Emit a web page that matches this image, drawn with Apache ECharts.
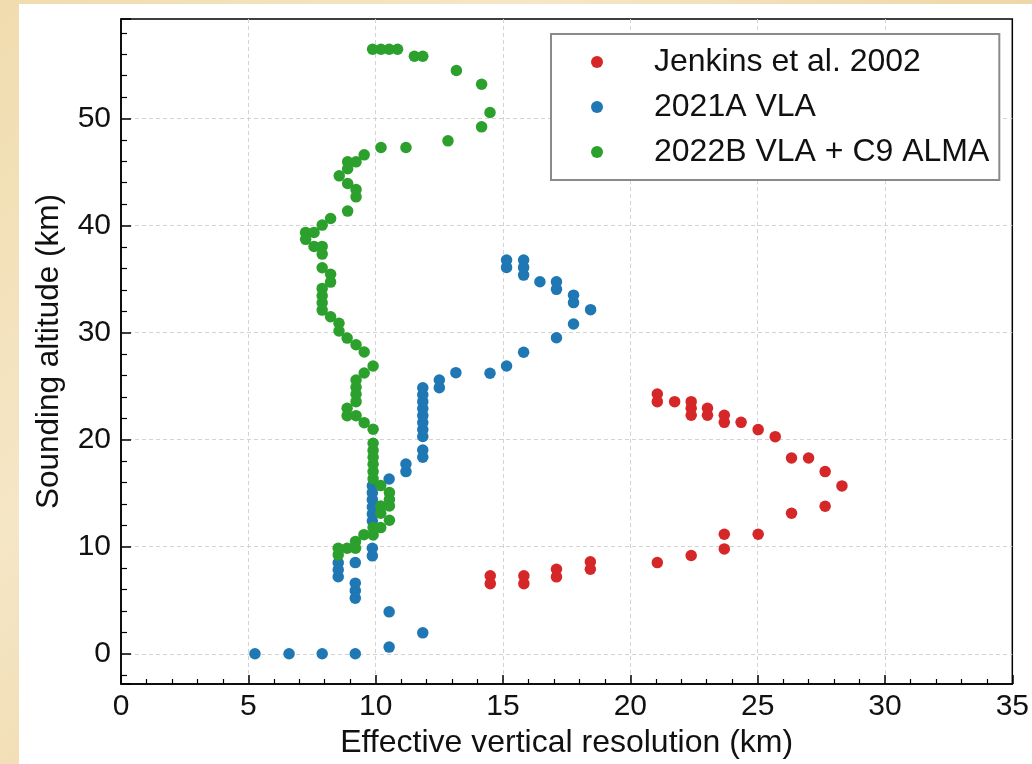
<!DOCTYPE html>
<html>
<head>
<meta charset="utf-8">
<script src="https://cdn.jsdelivr.net/npm/echarts@6/dist/echarts.min.js"></script>
<style>
  html, body { margin: 0; padding: 0; }
  body {
    width: 1032px; height: 764px; overflow: hidden; position: relative;
    background: linear-gradient(135deg, #f0dcae 0%, #f5e6c6 30%, #eed6a4 60%, #f4e2bd 100%);
  }
  #paper { position: absolute; left: 19px; top: 4px; width: 1013px; height: 760px; background: #fff; }
  #chart { position: absolute; left: 0; top: 0; width: 1032px; height: 764px; }
</style>
</head>
<body>
<div id="paper"></div>
<div id="chart"></div>
<script>
// ---- data (x: resolution km, y: altitude km) ----
const seriesNames = ['Jenkins et al. 2002', '2021A VLA', '2022B VLA + C9 ALMA'];
const seriesColors = ['#d62728', '#1f77b4', '#2ca02c'];

const jenkins2002 = [
  [21.06,24.27],[21.06,23.55],[21.74,23.55],[22.39,23.55],[22.39,22.93],[22.39,22.28],
  [23.03,22.93],[23.03,22.28],[23.69,22.28],[23.69,21.62],[24.35,21.62],[25.02,20.94],
  [25.69,20.28],[26.33,18.29],[27.0,18.29],[27.65,17.02],[28.31,15.68],[27.65,13.78],
  [26.33,13.13],[23.69,11.17],[25.02,11.17],[23.69,9.8],[22.39,9.18],[21.06,8.52],
  [18.43,8.6],[18.43,7.9],[17.1,7.9],[17.1,7.19],[15.82,7.28],[15.82,6.55],
  [14.5,7.28],[14.5,6.55]
];

const vla2021A = [
  [5.26,0],[6.6,0],[7.9,0],[9.2,0],[10.53,0.63],[11.85,1.96],[10.53,3.92],
  [9.2,5.2],[9.2,5.9],[9.2,6.6],[8.53,7.2],[8.53,7.85],[8.53,8.5],[9.2,8.52],
  [9.87,9.15],[9.87,9.86],[9.87,12.4],[9.87,13.05],[9.87,13.7],[9.87,14.4],
  [9.87,15.05],[9.87,15.7],[10.53,16.33],[11.19,17.02],[11.19,17.73],
  [11.85,18.36],[11.85,19.04],[11.85,20.3],[11.85,20.95],[11.85,21.6],[11.85,22.25],
  [11.85,22.9],[11.85,23.55],[11.85,24.2],[11.85,24.85],[12.5,24.86],[12.5,25.57],
  [13.15,26.26],[14.49,26.2],[15.14,26.88],[15.81,28.16],[17.1,29.52],[17.77,30.8],
  [18.44,32.14],[17.77,32.8],[17.77,33.5],[17.1,34.04],[17.1,34.75],[16.45,34.75],
  [15.81,35.37],[15.81,36.09],[15.81,36.77],[15.14,36.09],[15.14,36.77]
];

const vla2022B_alma = [
  [9.88,56.47],[10.21,56.47],[10.53,56.47],[10.86,56.47],[11.52,55.81],[11.85,55.81],
  [13.17,54.48],[14.16,53.2],[14.49,50.56],[14.16,49.22],[12.84,47.91],[11.19,47.29],
  [10.21,47.29],[9.55,46.6],[9.23,45.95],[8.9,45.95],[8.9,45.3],[8.57,44.64],
  [8.9,43.93],[9.23,43.37],[9.23,42.68],[8.9,41.35],[8.23,40.66],[7.9,40.04],
  [7.58,39.36],[7.25,39.36],[7.25,38.71],[7.58,38.05],[7.9,38.05],[7.9,37.33],
  [7.9,36.06],[8.23,35.44],[8.23,34.72],[7.9,34.13],[7.9,33.44],[7.9,32.79],
  [7.9,32.1],[8.23,31.48],[8.56,30.87],[8.56,30.15],[8.88,29.49],[9.23,28.87],
  [9.55,28.19],[9.9,26.88],[9.55,26.23],[9.23,25.57],[9.23,24.89],[9.23,24.24],
  [9.23,23.55],[8.88,22.93],[8.88,22.24],[9.23,22.24],[9.55,21.59],[9.9,20.97],
  [9.9,19.67],[9.9,19.0],[9.9,18.35],[9.9,17.7],[9.9,17.02],[9.9,16.35],
  [10.2,15.71],[10.54,15.06],[10.54,14.41],[10.54,13.8],[10.2,13.8],[10.2,13.13],
  [10.54,12.47],[10.2,11.79],[9.9,11.79],[9.9,11.1],[9.54,11.13],[9.21,10.5],
  [9.21,9.86],[8.88,9.86],[8.53,9.86],[8.53,9.24]
];

const xTicks = [0, 5, 10, 15, 20, 25, 30, 35];
const yTicks = [0, 10, 20, 30, 40, 50];
const xRange = [0, 35];
const yRange = [-2.82, 59.29];
const xTitle = 'Effective vertical resolution (km)';
const yTitle = 'Sounding altitude (km)';

const FONT = '"Liberation Sans", Arial, Helvetica, sans-serif';
const chart = echarts.init(document.getElementById('chart'), null, { renderer: 'canvas' });

const allData = [jenkins2002, vla2021A, vla2022B_alma];

const option = {
  backgroundColor: 'transparent',
  animation: false,
  grid: {
    left: 121, right: 19, top: 19, bottom: 80,
    show: true, borderColor: '#000', borderWidth: 1.5, backgroundColor: '#fff'
  },
  legend: {
    data: seriesNames,
    orient: 'vertical',
    left: 551, top: 34,
    backgroundColor: '#fff',
    borderColor: '#8a8a8a', borderWidth: 2, borderRadius: 0,
    padding: [12, 10, 12, 40],
    itemGap: 13,
    itemWidth: 12, itemHeight: 12,
    icon: 'circle',
    textStyle: { fontFamily: FONT, fontSize: 32, color: '#111', padding: [0, 0, 0, 46] }
  },
  xAxis: {
    type: 'value', min: xRange[0], max: xRange[1], interval: 5,
    name: xTitle, nameLocation: 'middle', nameGap: 40,
    nameTextStyle: { fontFamily: FONT, fontSize: 32, color: '#111' },
    axisLine: { show: true, onZero: false, lineStyle: { color: '#000', width: 1.5 } },
    axisTick: { show: true, inside: true, length: 9, lineStyle: { color: '#000', width: 1.5 } },
    minorTick: { show: true, splitNumber: 5, length: 5, lineStyle: { color: '#000', width: 1.2 } },
    axisLabel: {
      fontFamily: FONT, fontSize: 30, color: '#111', margin: 8,
      formatter: v => (xTicks.indexOf(v) >= 0 ? String(v) : '')
    },
    splitLine: { show: true, showMinLine: false, showMaxLine: false,
      lineStyle: { color: '#d3d3d3', width: 1, type: [4, 3] } }
  },
  yAxis: {
    type: 'value', min: yRange[0], max: yRange[1], minInterval: 10, maxInterval: 10,
    name: yTitle, nameLocation: 'middle', nameGap: 56, nameRotate: 90,
    nameTextStyle: { fontFamily: FONT, fontSize: 31.5, color: '#111' },
    axisLine: { show: true, onZero: false, lineStyle: { color: '#000', width: 1.5 } },
    axisTick: { show: true, inside: true, length: 10, lineStyle: { color: '#000', width: 1.5 } },
    minorTick: { show: true, splitNumber: 5, length: 6, lineStyle: { color: '#000', width: 1.2 } },
    axisLabel: {
      fontFamily: FONT, fontSize: 30, color: '#111', margin: 10,
      showMinLabel: false, showMaxLabel: false,
      formatter: v => (yTicks.indexOf(Math.round(v * 1000) / 1000) >= 0 ? String(v) : '')
    },
    splitLine: { show: true, showMinLine: false, showMaxLine: false,
      lineStyle: { color: '#d3d3d3', width: 1, type: [4, 3] } }
  },
  series: seriesNames.map((name, i) => ({
    name: name,
    type: 'scatter',
    data: allData[i],
    symbol: 'circle',
    symbolSize: 11.5,
    itemStyle: { color: seriesColors[i], opacity: 1 },
    z: 2 + i
  }))
};

chart.setOption(option);
</script>
</body>
</html>
